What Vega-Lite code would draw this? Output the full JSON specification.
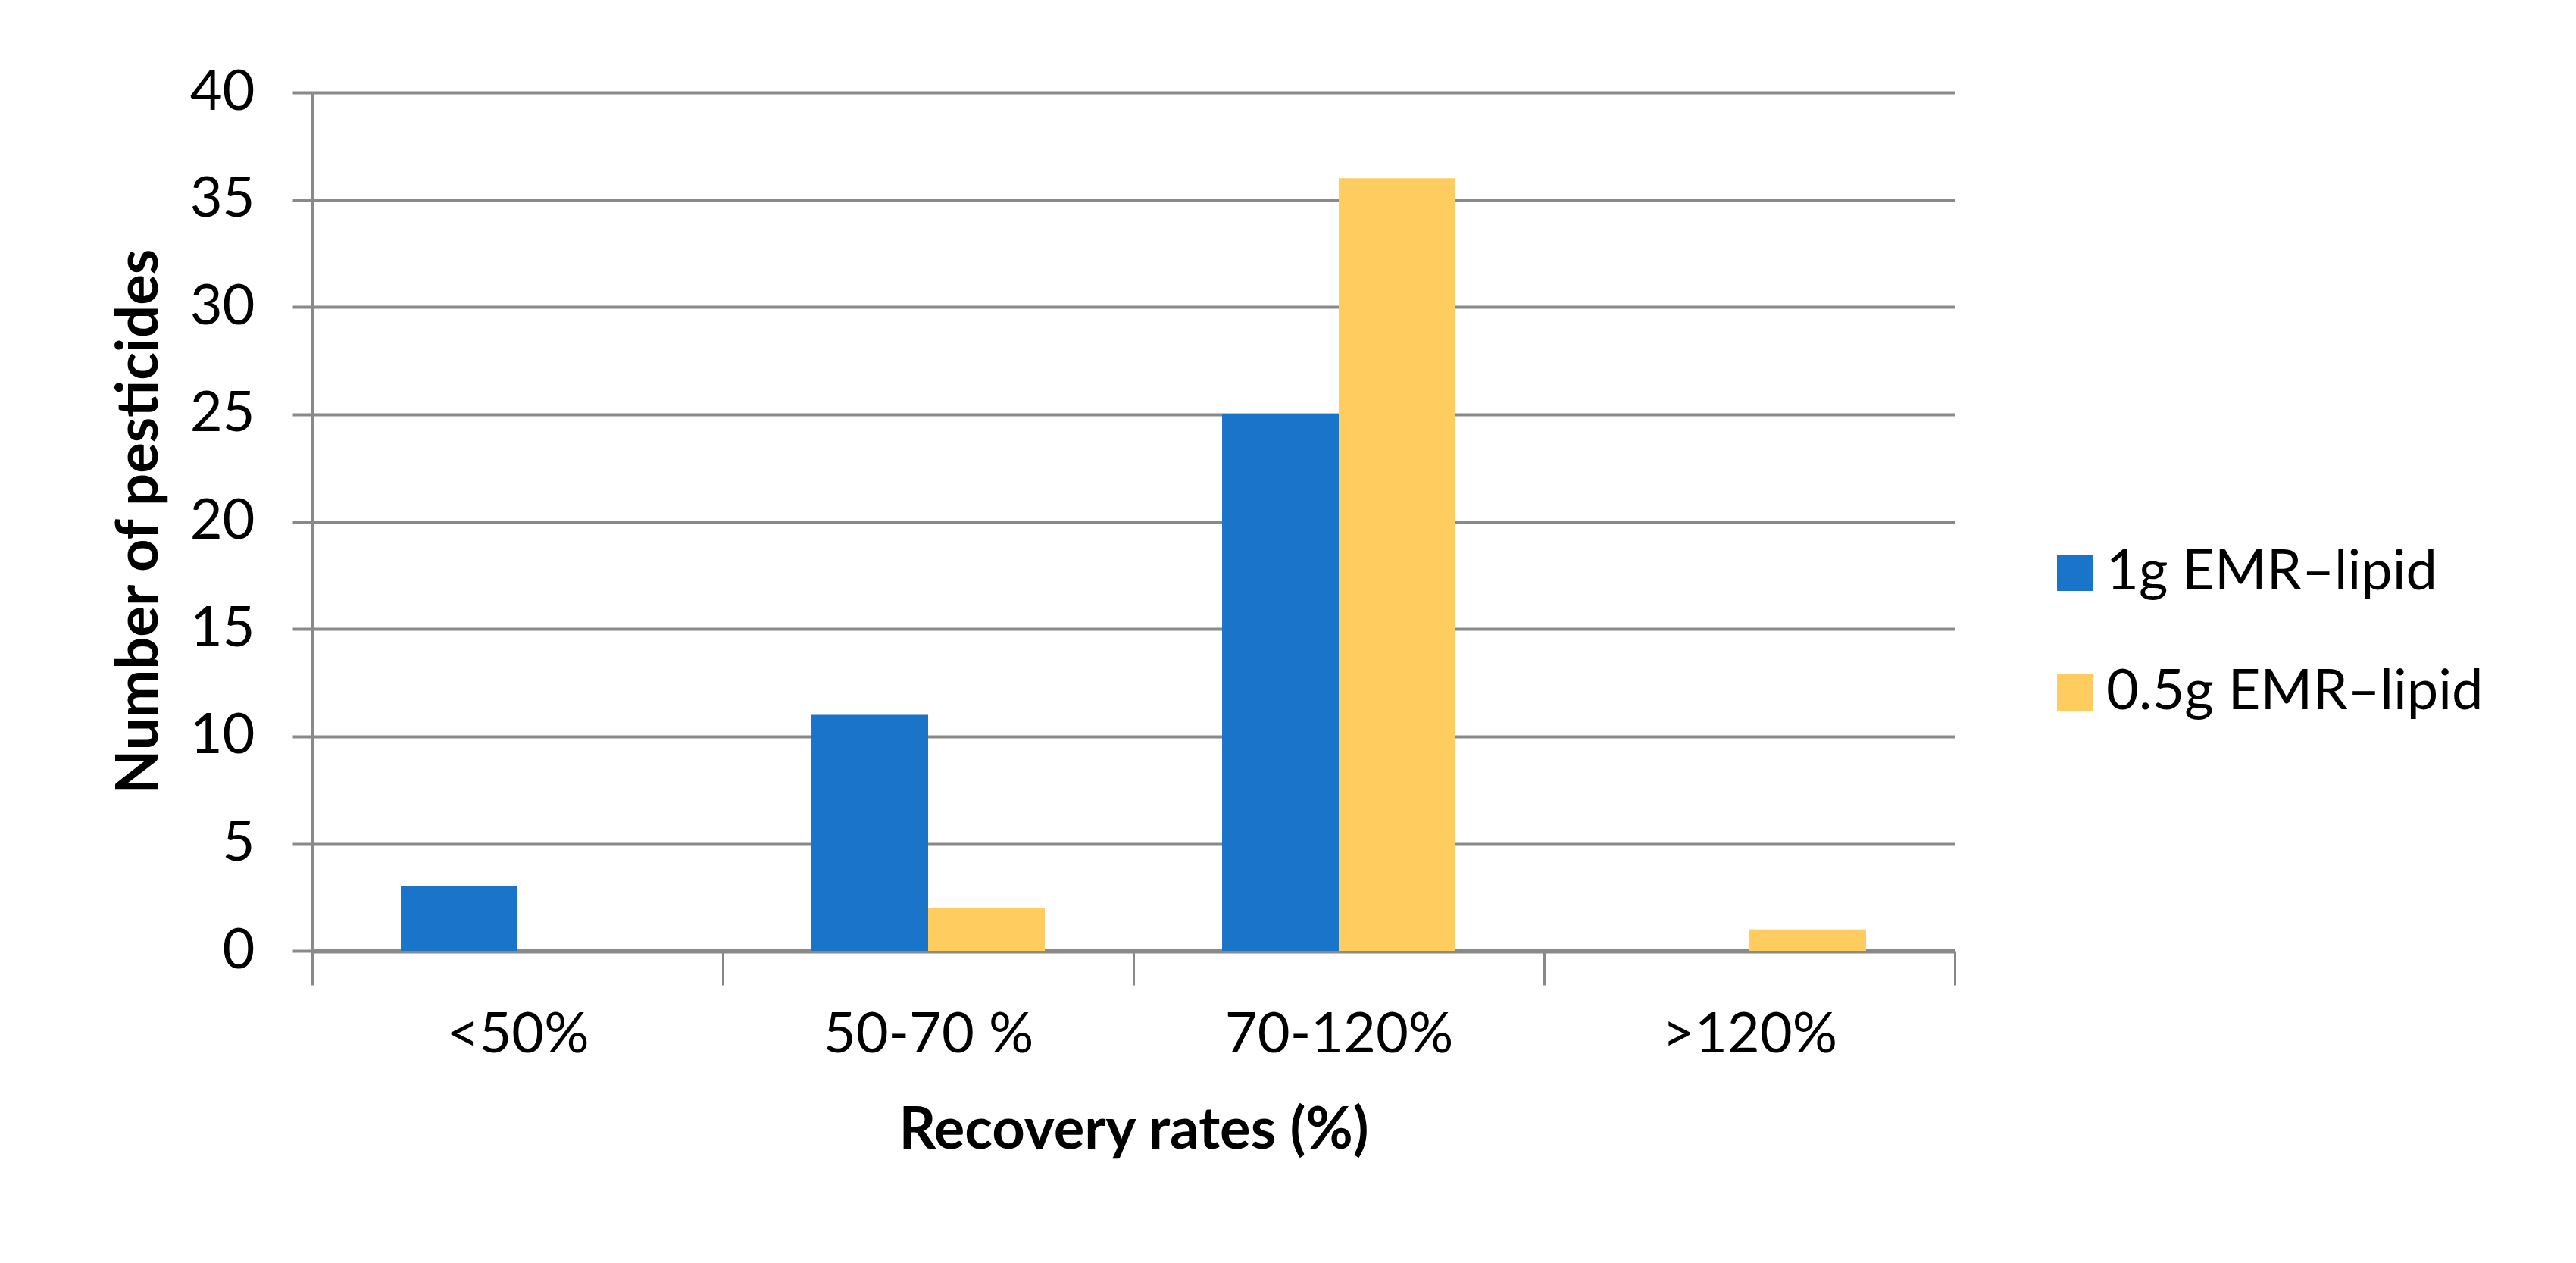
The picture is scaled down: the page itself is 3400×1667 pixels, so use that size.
{
  "$schema": "https://vega.github.io/schema/vega-lite/v6.json",
  "width": 2168,
  "height": 1133,
  "autosize": "none",
  "padding": {"left": 412, "top": 122, "right": 820, "bottom": 412},
  "background": "white",
  "data": {
    "values": [
      {"range": "<50%", "series": "1g EMR–lipid", "count": 3},
      {"range": "<50%", "series": "0.5g EMR–lipid", "count": 0},
      {"range": "50-70 %", "series": "1g EMR–lipid", "count": 11},
      {"range": "50-70 %", "series": "0.5g EMR–lipid", "count": 2},
      {"range": "70-120%", "series": "1g EMR–lipid", "count": 25},
      {"range": "70-120%", "series": "0.5g EMR–lipid", "count": 36},
      {"range": ">120%", "series": "1g EMR–lipid", "count": 0},
      {"range": ">120%", "series": "0.5g EMR–lipid", "count": 1}
    ]
  },
  "mark": {"type": "bar"},
  "encoding": {
    "x": {
      "field": "range",
      "type": "nominal",
      "sort": ["<50%", "50-70 %", "70-120%", ">120%"],
      "scale": {"paddingInner": 0, "paddingOuter": 0},
      "axis": {
        "title": "Recovery rates (%)",
        "labelAngle": 0,
        "labelLimit": 0,
        "grid": false,
        "tickBand": "extent",
        "tickSize": 45,
        "tickWidth": 3,
        "tickColor": "#898989",
        "domainColor": "#898989",
        "domainWidth": 6,
        "labelPadding": 30,
        "titleY": 237,
        "titleBaseline": "middle"
      }
    },
    "xOffset": {
      "field": "series",
      "type": "nominal",
      "sort": ["1g EMR–lipid", "0.5g EMR–lipid"],
      "scale": {"paddingInner": 0, "paddingOuter": 0.76}
    },
    "y": {
      "field": "count",
      "type": "quantitative",
      "scale": {"domain": [0, 40], "nice": false},
      "axis": {
        "title": "Number of pesticides",
        "values": [0, 5, 10, 15, 20, 25, 30, 35, 40],
        "grid": true,
        "gridColor": "#898989",
        "gridWidth": 4,
        "tickSize": 26,
        "tickWidth": 4,
        "tickColor": "#898989",
        "domainColor": "#898989",
        "domainWidth": 5,
        "labelPadding": 50,
        "titleX": -228,
        "titleY": 566,
        "titleBaseline": "middle"
      }
    },
    "color": {
      "field": "series",
      "type": "nominal",
      "scale": {
        "domain": ["1g EMR–lipid", "0.5g EMR–lipid"],
        "range": ["#1A74C9", "#FFCC5F"]
      },
      "legend": {
        "title": null,
        "orient": "none",
        "legendX": 2290,
        "legendY": 597,
        "symbolType": "square",
        "symbolSize": 2304,
        "symbolStrokeWidth": 0,
        "labelOffset": 4,
        "rowPadding": 84,
        "labelFontSize": 74,
        "labelFont": "Lato",
        "labelColor": "black",
        "labelLimit": 0
      }
    }
  },
  "config": {
    "view": {"stroke": null},
    "axis": {
      "labelFont": "Lato",
      "labelFontSize": 74,
      "labelColor": "black",
      "titleFont": "Lato",
      "titleFontSize": 76,
      "titleFontWeight": "bold",
      "titleColor": "black"
    }
  }
}
